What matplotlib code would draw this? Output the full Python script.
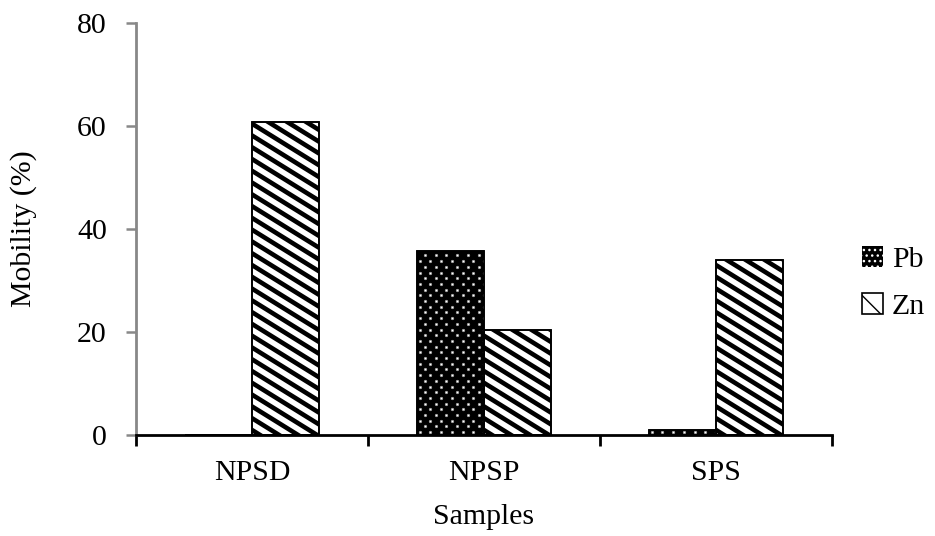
import matplotlib.pyplot as plt
import matplotlib.patches as mpatches
from matplotlib.lines import Line2D
from matplotlib.transforms import IdentityTransform
import numpy as np

samples = ['NPSD', 'NPSP', 'SPS']
pb = [0.0, 35.8, 1.0]
zn = [60.7, 20.3, 34.0]

plt.rcParams['font.family'] = ['Liberation Serif', 'DejaVu Serif']
FS = 21.5


def stripes(ax, bar, period=19.0, slope=0.62, lw=3.3):
    # diagonal black stripes inside a bar (pixel space, clipped to the bar)
    bb = bar.get_window_extent()
    if bb.height < 1:
        return
    vp = period * slope
    start = bb.y0 - vp - (bb.y0 % vp)
    for c in np.arange(start, bb.y1 + slope * bb.width + vp, vp):
        xs = [bb.x0 - 5, bb.x1 + 5]
        ys = [c + slope * 5, c - slope * (bb.width + 5)]
        ln = Line2D(xs, ys, transform=IdentityTransform(), color='black', lw=lw,
                    solid_capstyle='butt', zorder=2.5)
        ax.add_artist(ln)
        ln.set_clip_path(bar.get_path(), bar.get_transform())


def dots(ax, bar, dx=10.7, dy=5.7, ms=1.8):
    # staggered white dots on a black bar
    bb = bar.get_window_extent()
    if bb.height < 1:
        return
    xs, ys = [], []
    for i, y in enumerate(np.arange(bb.y0 + dy / 2, bb.y1, dy)):
        off = 0 if i % 2 == 0 else dx / 2
        for x in np.arange(bb.x0 + 3 + off, bb.x1, dx):
            xs.append(x)
            ys.append(y)
    ln = Line2D(xs, ys, transform=IdentityTransform(), ls='none', marker='o', ms=ms,
                mfc='white', mec='#999999', mew=0.5, zorder=2.5)
    ax.add_artist(ln)
    ln.set_clip_path(bar.get_path(), bar.get_transform())


fig = plt.figure(figsize=(9.35, 5.36), dpi=100)
ax = fig.add_axes([136 / 935, 1 - 435 / 536, (832 - 136) / 935, (435 - 23) / 536])
ax.set_xlim(-0.5, 2.5)
ax.set_ylim(0, 80)

x = np.arange(len(samples))
w = 0.29

pb_bars = ax.bar(x - w / 2, pb, width=w, color='black', edgecolor='black', linewidth=1.2, zorder=2)
zn_bars = ax.bar(x + w / 2, zn, width=w, color='white', edgecolor='black', linewidth=1.2, zorder=2)
for b in pb_bars:
    dots(ax, b)
for b in zn_bars:
    stripes(ax, b)
# redraw outlines on top of the textures
ax.bar(x - w / 2, pb, width=w, fill=False, edgecolor='black', linewidth=1.2, zorder=3)
ax.bar(x + w / 2, zn, width=w, fill=False, edgecolor='black', linewidth=1.2, zorder=3)

ax.set_yticks([0, 20, 40, 60, 80])
ax.set_xticks(x)
ax.set_xticklabels(samples)
ax.set_xticks([-0.5, 0.5, 1.5, 2.5], minor=True)
ax.tick_params(axis='x', which='major', length=0, labelsize=FS, pad=18)
ax.tick_params(axis='x', which='minor', length=8, width=2, color='black', direction='out')
ax.tick_params(axis='y', length=7, width=1.8, color='#888888', labelsize=FS, pad=14)

for s in ['top', 'right']:
    ax.spines[s].set_visible(False)
ax.spines['left'].set_color('#888888')
ax.spines['left'].set_linewidth(2)
ax.spines['bottom'].set_color('black')
ax.spines['bottom'].set_linewidth(2)
ax.spines['bottom'].set_zorder(4)

ax.set_xlabel('Samples', fontsize=FS)
ax.set_ylabel('Mobility (%)', fontsize=FS)
ax.xaxis.set_label_coords(0.5, (435 - 504) / 412)
ax.yaxis.set_label_coords((37 - 136) / 696, 0.5)

with plt.rc_context({'hatch.linewidth': 0.8}):
    h_pb = mpatches.Patch(facecolor='black', edgecolor='white', hatch='...', linewidth=0)
with plt.rc_context({'hatch.linewidth': 2.5}):
    h_zn = mpatches.Patch(facecolor='white', edgecolor='black', hatch='\\', linewidth=1.2)
fig.legend([h_pb, h_zn], ['Pb', 'Zn'], loc='center left',
           bbox_to_anchor=(862 / 935, 1 - 283 / 536), frameon=False, fontsize=FS,
           handlelength=0.7, handleheight=0.7, handletextpad=0.3, labelspacing=0.65,
           borderpad=0, borderaxespad=0)

fig.savefig('out.png', dpi=100)
